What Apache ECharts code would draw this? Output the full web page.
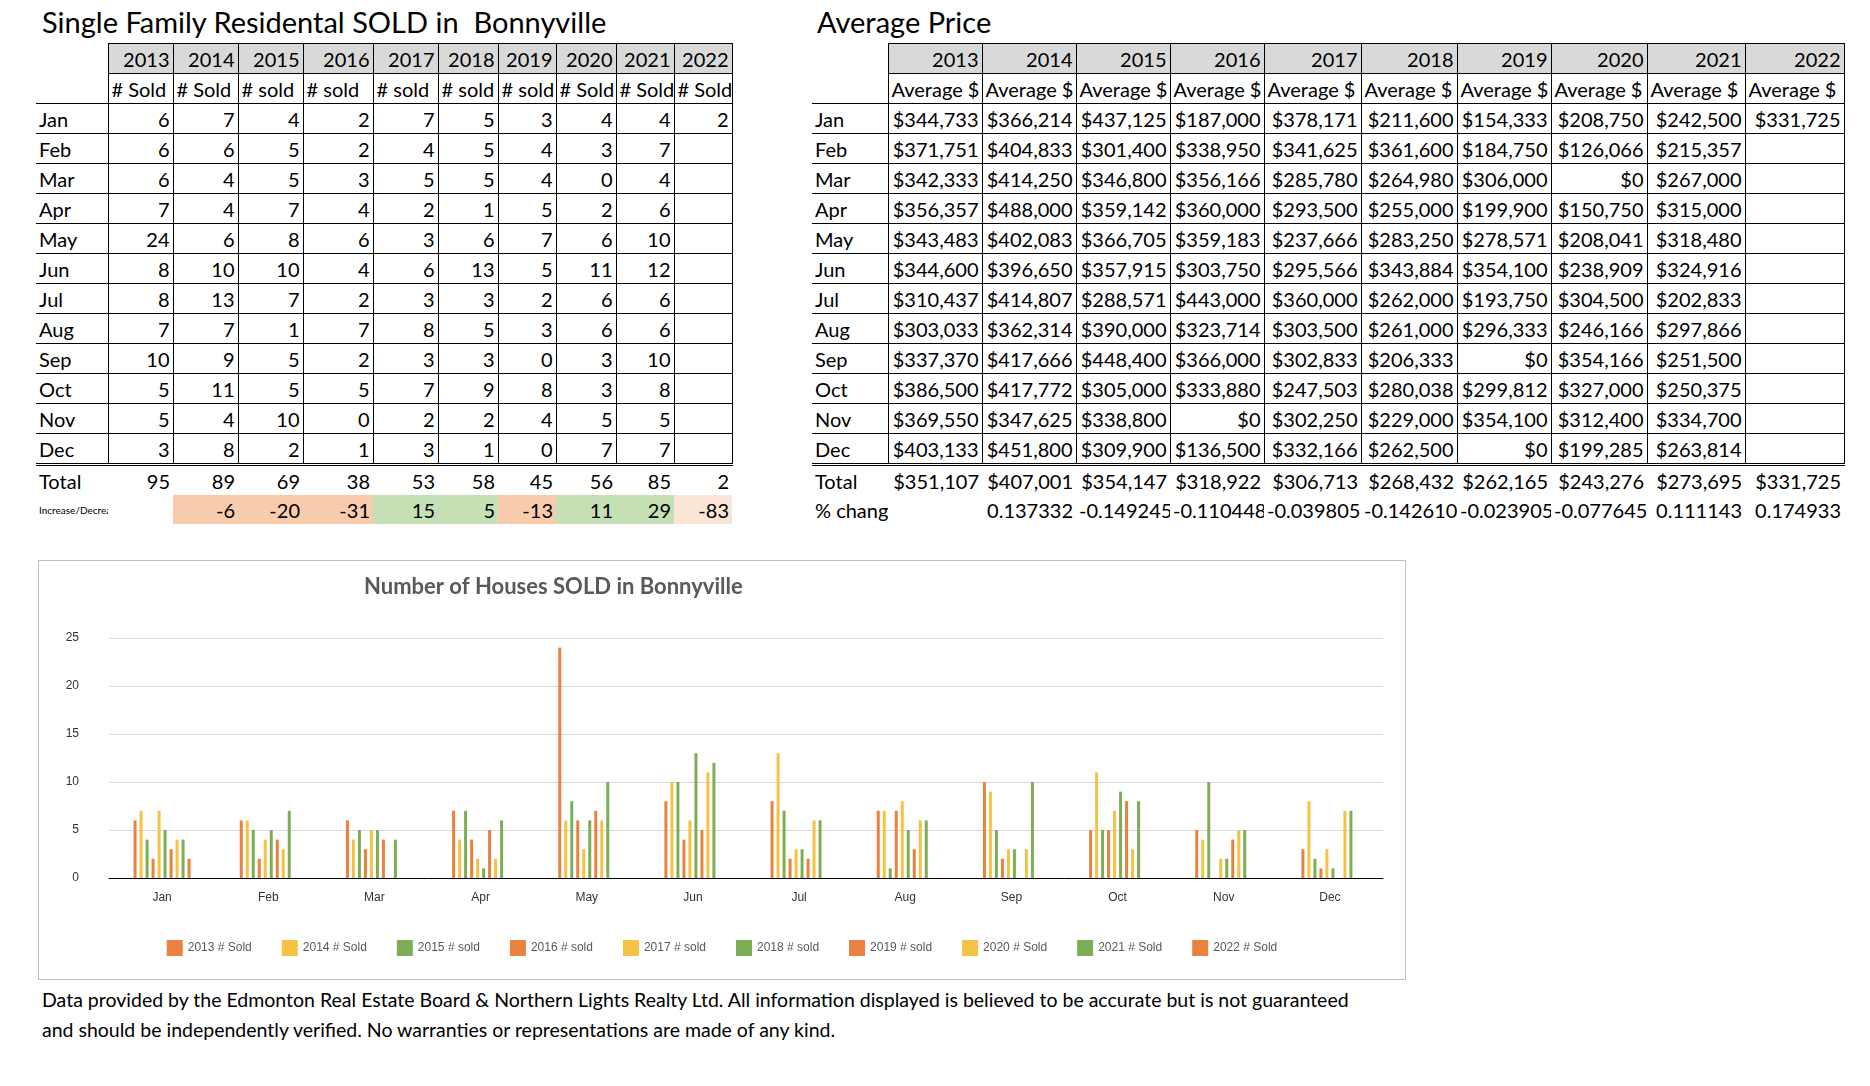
<!DOCTYPE html>
<html><head><meta charset="utf-8">
<script src="https://cdn.jsdelivr.net/npm/echarts@6/dist/echarts.min.js"></script>
<style>
body{margin:0;background:#fff;font-family:Lato,"Open Sans",sans-serif;color:#000;}
.ttl{position:absolute;font-size:29px;}
table{position:absolute;border-collapse:collapse;font-size:20px;table-layout:fixed;}
td{height:29px;padding:0 3px;white-space:nowrap;overflow:hidden;text-align:right;border-bottom:1px solid #000;}
td.lab{text-align:left;border-bottom:1px solid #000;}
td.c{border-left:1px solid #000;border-right:1px solid #000;}
tr.yr td.c{background:#d9d9d9;border-top:1px solid #000;}
tr.tot td{border-top:3px double #000;border-bottom:none;}
tr.chg td{border:none;}
#chart{position:absolute;left:38px;top:560px;width:1366px;height:418px;border:1px solid #bfbfbf;}
.foot{position:absolute;left:42px;top:985px;font-size:19.5px;line-height:30px;}
</style></head><body>
<div class="ttl" style="left:42px;top:4px">Single Family Residental SOLD in&nbsp; Bonnyville</div>
<div class="ttl" style="left:817px;top:4px">Average Price</div>
<table id="t1" style="left:36px;top:43px;width:696px"></table>
<table id="t2" style="left:812px;top:43px;width:1032px"></table>
<div id="chart"></div>
<div class="foot">Data provided by the Edmonton Real Estate Board &amp; Northern Lights Realty Ltd. All information displayed is believed to be accurate but is not guaranteed<br>and should be independently verified. No warranties or representations are made of any kind.</div>
<script>
const years = ['2013','2014','2015','2016','2017','2018','2019','2020','2021','2022'];
const months = ['Jan','Feb','Mar','Apr','May','Jun','Jul','Aug','Sep','Oct','Nov','Dec'];
const soldHeads = ['# Sold','# Sold','# sold','# sold','# sold','# sold','# sold','# Sold','# Sold','# Sold'];
const sold2013 = [6,6,6,7,24,8,8,7,10,5,5,3];
const sold2014 = [7,6,4,4,6,10,13,7,9,11,4,8];
const sold2015 = [4,5,5,7,8,10,7,1,5,5,10,2];
const sold2016 = [2,2,3,4,6,4,2,7,2,5,0,1];
const sold2017 = [7,4,5,2,3,6,3,8,3,7,2,3];
const sold2018 = [5,5,5,1,6,13,3,5,3,9,2,1];
const sold2019 = [3,4,4,5,7,5,2,3,0,8,4,0];
const sold2020 = [4,3,0,2,6,11,6,6,3,3,5,7];
const sold2021 = [4,7,4,6,10,12,6,6,10,8,5,7];
const sold2022 = [2,null,null,null,null,null,null,null,null,null,null,null];
const soldTotals = [95,89,69,38,53,58,45,56,85,2];
const incDec = [null,-6,-20,-31,15,5,-13,11,29,-83];
const price2013 = ['$344,733','$371,751','$342,333','$356,357','$343,483','$344,600','$310,437','$303,033','$337,370','$386,500','$369,550','$403,133'];
const price2014 = ['$366,214','$404,833','$414,250','$488,000','$402,083','$396,650','$414,807','$362,314','$417,666','$417,772','$347,625','$451,800'];
const price2015 = ['$437,125','$301,400','$346,800','$359,142','$366,705','$357,915','$288,571','$390,000','$448,400','$305,000','$338,800','$309,900'];
const price2016 = ['$187,000','$338,950','$356,166','$360,000','$359,183','$303,750','$443,000','$323,714','$366,000','$333,880','$0','$136,500'];
const price2017 = ['$378,171','$341,625','$285,780','$293,500','$237,666','$295,566','$360,000','$303,500','$302,833','$247,503','$302,250','$332,166'];
const price2018 = ['$211,600','$361,600','$264,980','$255,000','$283,250','$343,884','$262,000','$261,000','$206,333','$280,038','$229,000','$262,500'];
const price2019 = ['$154,333','$184,750','$306,000','$199,900','$278,571','$354,100','$193,750','$296,333','$0','$299,812','$354,100','$0'];
const price2020 = ['$208,750','$126,066','$0','$150,750','$208,041','$238,909','$304,500','$246,166','$354,166','$327,000','$312,400','$199,285'];
const price2021 = ['$242,500','$215,357','$267,000','$315,000','$318,480','$324,916','$202,833','$297,866','$251,500','$250,375','$334,700','$263,814'];
const price2022 = ['$331,725','','','','','','','','','','',''];
const priceTotals = ['$351,107','$407,001','$354,147','$318,922','$306,713','$268,432','$262,165','$243,276','$273,695','$331,725'];
const pctChange = ['','0.137332','-0.149245','-0.110448','-0.039805','-0.142610','-0.023905','-0.077645','0.111143','0.174933'];

const soldCols = [sold2013,sold2014,sold2015,sold2016,sold2017,sold2018,sold2019,sold2020,sold2021,sold2022];
const priceCols = [price2013,price2014,price2015,price2016,price2017,price2018,price2019,price2020,price2021,price2022];

function build(id, labW, colW, heads, cols, totals, lastLab, last, colorLast){
  let h = '<colgroup><col style="width:'+labW+'px">' + colW.map(w=>'<col style="width:'+w+'px">').join('') + '</colgroup>';
  h += '<tr class="yr"><td class="lab" style="border-bottom:none"></td>' + years.map(y=>'<td class="c">'+y+'</td>').join('') + '</tr>';
  h += '<tr><td class="lab"></td>' + heads.map(x=>'<td class="c" style="text-align:left">'+x+'</td>').join('') + '</tr>';
  months.forEach((m,i)=>{
    h += '<tr><td class="lab">'+m+'</td>' + cols.map(c=>'<td class="c">'+(c[i]==null?'':c[i])+'</td>').join('') + '</tr>';
  });
  h += '<tr class="tot"><td class="lab">Total</td>' + totals.map(t=>'<td>'+t+'</td>').join('') + '</tr>';
  h += '<tr class="chg"><td class="lab" style="'+(colorLast?'font-size:10px':'')+'">'+lastLab+'</td>' + last.map(v=>{
    let bg='';
    if(colorLast && v!=null){ bg = v<0 ? (v<-50?'#fbe5d6':'#f8cbad') : '#c5e0b4'; }
    return '<td style="background:'+bg+'">'+(v==null?'':v)+'</td>';
  }).join('') + '</tr>';
  document.getElementById(id).innerHTML = h;
}
build('t1', 72, [65,65,65,70,65,60,58,60,58,58], soldHeads, soldCols, soldTotals, 'Increase/Decrease', incDec, true);
build('t2', 76, [94,94,94,94,97,96,94,96,98,99], years.map(()=>'Average $'), priceCols, priceTotals, '% change', pctChange, false);

const palette = ['#e8823e','#f6c244','#7dae57'];
const chart = echarts.init(document.getElementById('chart'));
chart.setOption({
  title:{text:'Number of Houses SOLD in Bonnyville',left:320,top:10,textStyle:{color:'#595959',fontSize:22,fontWeight:'bold',fontFamily:'Lato'}},
  legend:{top:374,left:'center',itemWidth:16,itemHeight:16,itemGap:30,icon:'rect',textStyle:{fontSize:12,color:'#595959'},
    data:years.map((y,i)=>y+' '+soldHeads[i])},
  grid:{left:70,right:22,top:77,bottom:101},
  xAxis:{type:'category',data:months,axisLine:{lineStyle:{color:'#000'}},axisTick:{alignWithLabel:true,length:8},
    axisLabel:{fontSize:12,color:'#333',margin:14}},
  yAxis:{type:'value',min:0,max:25,interval:5,axisLabel:{fontSize:12,color:'#333',margin:30},splitLine:{lineStyle:{color:'#d9d9d9'}}},
  series:soldCols.map((c,i)=>({name:years[i]+' '+soldHeads[i],type:'bar',data:c,barWidth:3,barGap:'100%',
    itemStyle:{color:palette[i%3]}}))
});
</script>
</body></html>
